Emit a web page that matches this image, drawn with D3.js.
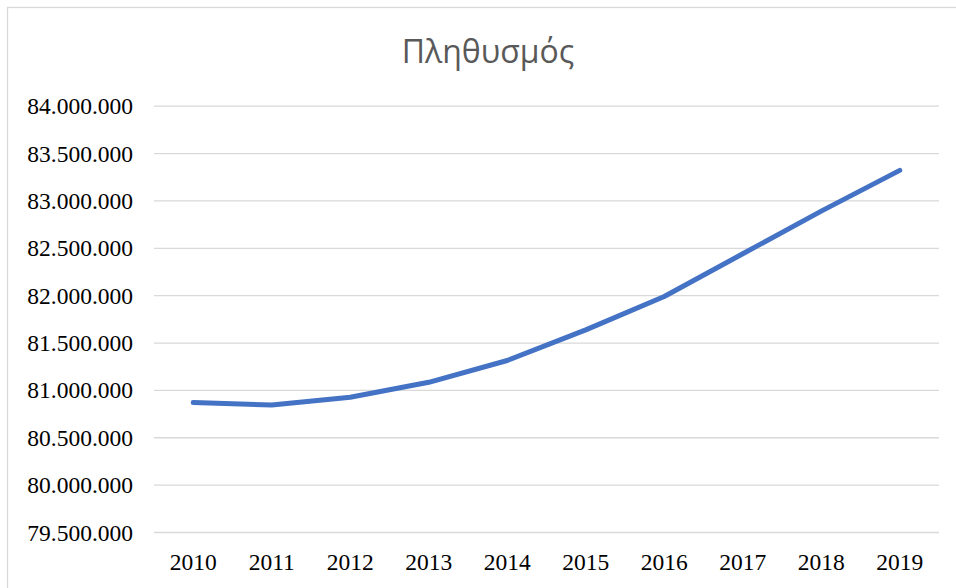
<!DOCTYPE html>
<html>
<head>
<meta charset="utf-8">
<script src="https://cdn.jsdelivr.net/npm/d3@7"></script>
<style>
  html, body { margin: 0; padding: 0; background: #fff; overflow: hidden; }
  svg { display: block; }
</style>
</head>
<body>
<script>
const title = "Πληθυσμός";
const years = ["2010","2011","2012","2013","2014","2015","2016","2017","2018","2019"];
const population = [80866000, 80840000, 80922000, 81080000, 81310000, 81634000, 81986000, 82437000, 82887000, 83317000];
const yTicks = [79500000, 80000000, 80500000, 81000000, 81500000, 82000000, 82500000, 83000000, 83500000, 84000000];

const W = 956, H = 588;
const plot = { left: 154, right: 939, top: 105.7, bottom: 532 };

const svg = d3.select("body").append("svg").attr("width", W).attr("height", H);

svg.append("rect").attr("x", 7.5).attr("y", 7.5).attr("width", 960).attr("height", 600)
  .attr("fill", "#fff").attr("stroke", "#d9d9d9").attr("stroke-width", 1.3);

const x = d3.scaleBand().domain(years).range([plot.left, plot.right]);
const y = d3.scaleLinear().domain([79500000, 84000000]).range([plot.bottom, plot.top]);

const fmt = v => d3.format(",")(v).replace(/,/g, ".");
const serif = "'Liberation Serif', 'Times New Roman', serif";

// gridlines
const yAxis = d3.axisLeft(y).tickValues(yTicks).tickSize(-(plot.right - plot.left)).tickPadding(21).tickFormat(fmt);
const gy = svg.append("g").attr("transform", `translate(${plot.left},0)`).call(yAxis);
gy.attr("font-family", null);
gy.select(".domain").remove();
gy.selectAll(".tick line").attr("stroke", "#d9d9d9").attr("stroke-width", 1.3);
gy.selectAll(".tick text").style("font-family", serif)
  .style("font-size", "23.5px").attr("fill", "#000").attr("dy", "0.34em");

const xAxis = d3.axisBottom(x).tickSize(0).tickPadding(21);
const gx = svg.append("g").attr("transform", `translate(0,${plot.bottom})`).call(xAxis);
gx.attr("font-family", null);
gx.select(".domain").remove();
gx.selectAll(".tick text").style("font-family", serif)
  .style("font-size", "23.5px").attr("fill", "#000").attr("dy", "0.71em");

const line = d3.line().x((d, i) => x(years[i]) + x.bandwidth() / 2).y(d => y(d));
svg.append("path").datum(population).attr("d", line)
  .attr("fill", "none").attr("stroke", "#4472c4").attr("stroke-width", 5)
  .attr("stroke-linecap", "round").attr("stroke-linejoin", "round");

svg.append("text").attr("x", 488).attr("y", 63).attr("text-anchor", "middle")
  .style("font-family", "'Open Sans', 'Noto Sans', sans-serif").style("font-size", "32px")
  .attr("fill", "#595959").text(title);
</script>
</body>
</html>
